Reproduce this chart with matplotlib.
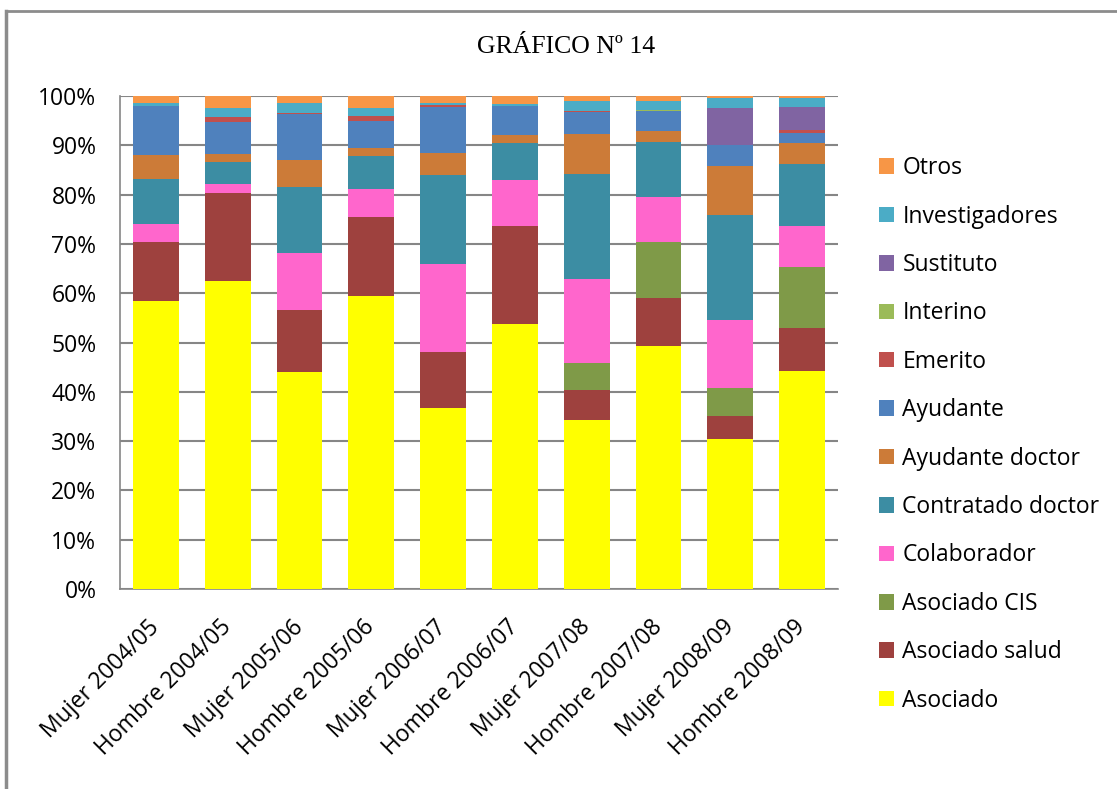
import matplotlib
matplotlib.use("Agg")
import matplotlib.pyplot as plt
from matplotlib.lines import Line2D
from matplotlib.patches import Patch
import numpy as np

# bars, left to right
groups = [
    "Mujer 2004/05", "Hombre 2004/05", "Mujer 2005/06", "Hombre 2005/06",
    "Mujer 2006/07", "Hombre 2006/07", "Mujer 2007/08", "Hombre 2007/08",
    "Mujer 2008/09", "Hombre 2008/09",
]

# stacked from bottom to top (percent)
asociado = [58.5, 62.5, 44.0, 59.5, 36.6, 53.8, 34.2, 49.2, 30.4, 44.1]
asociado_salud = [11.9, 17.8, 12.6, 16.2, 11.4, 19.8, 6.1, 9.9, 4.6, 8.9]
asociado_cis = [0, 0, 0, 0, 0, 0, 5.6, 11.3, 5.7, 12.3]
colaborador = [3.6, 1.8, 11.5, 5.5, 17.9, 9.5, 17.0, 9.1, 13.9, 8.3]
contratado_doctor = [9.1, 4.6, 13.3, 6.9, 18.0, 7.5, 21.2, 11.1, 21.2, 12.5]
ayudante_doctor = [4.85, 1.6, 5.5, 1.6, 4.4, 1.6, 8.1, 2.4, 9.9, 4.25]
ayudante = [10.1, 6.5, 9.3, 5.5, 9.5, 5.9, 4.5, 3.9, 4.45, 2.0]
emerito = [0, 1.0, 0.4, 1.0, 0.25, 0, 0.2, 0, 0, 0.8]
interino = [0, 0, 0, 0, 0, 0, 0, 0.2, 0, 0]
sustituto = [0, 0, 0, 0, 0, 0, 0, 0, 7.5, 4.65]
investigadores = [0.6, 1.8, 2.0, 1.6, 0.55, 0.4, 2.15, 1.95, 1.85, 1.65]
otros = [1.35, 2.4, 1.35, 2.4, 1.35, 1.55, 0.95, 0.95, 0.5, 0.5]

series = [
    ("Asociado", asociado, "#FFFF00"),
    ("Asociado salud", asociado_salud, "#9E413E"),
    ("Asociado CIS", asociado_cis, "#7F9A48"),
    ("Colaborador", colaborador, "#FF66CC"),
    ("Contratado doctor", contratado_doctor, "#3C8DA3"),
    ("Ayudante doctor", ayudante_doctor, "#CC7B38"),
    ("Ayudante", ayudante, "#4F81BD"),
    ("Emerito", emerito, "#C0504D"),
    ("Interino", interino, "#9BBB59"),
    ("Sustituto", sustituto, "#8064A2"),
    ("Investigadores", investigadores, "#4BACC6"),
    ("Otros", otros, "#F79646"),
]

font = "Open Sans"
fsize = 16.5
grey = "#868686"

fig = plt.figure(figsize=(11.17, 7.89), dpi=100)
ax = fig.add_axes([120 / 1117, 1 - 589 / 789, 718 / 1117, 493 / 789])

# 100% stacked: normalise each bar
data = np.array([s[1] for s in series], dtype=float)
data = data / data.sum(axis=0) * 100
x = np.arange(len(groups))
bottom = np.zeros(len(groups))
for (name, _, color), vals in zip(series, data):
    ax.bar(x, vals, bottom=bottom, width=0.64, color=color, label=name, zorder=3)
    bottom += vals

ax.set_xlim(-0.5, len(groups) - 0.5)
ax.set_ylim(0, 100)
ax.set_yticks(np.arange(0, 101, 10))
ax.set_yticklabels([f"{v}%" for v in range(0, 101, 10)], fontsize=fsize, family=font)
ax.set_xticks(x)
ax.set_xticklabels(groups, rotation=45, ha="right", va="center", rotation_mode="anchor",
                   fontsize=fsize, family=font)
ax.tick_params(axis="y", length=0, pad=17)
ax.tick_params(axis="x", length=0, pad=25)
ax.yaxis.grid(True, color=grey, linewidth=1.5, zorder=0)
for side in ["top", "right"]:
    ax.spines[side].set_visible(False)
for side in ["left", "bottom"]:
    ax.spines[side].set_color(grey)
    ax.spines[side].set_linewidth(1.2)

# legend, top entry is the top series
handles = [Patch(facecolor=c, edgecolor="none") for _, _, c in series][::-1]
labels = [n for n, _, _ in series][::-1]
fig.legend(handles, labels, loc="upper left", bbox_to_anchor=(870 / 1117, 1 - 147 / 789),
           frameon=False, prop={"family": font, "size": fsize}, handlelength=0.66,
           handleheight=0.66, handletextpad=0.35, labelspacing=1.065, borderaxespad=0)

fig.text(566 / 1117, 1 - 47 / 789, "GRÁFICO Nº 14", ha="center", va="center",
         fontsize=18.5, family="Liberation Serif")

# chart border (only top and left visible in the crop)
fig.add_artist(Line2D([6 / 1117, 1], [1 - 11 / 789, 1 - 11 / 789], color="#8C8C8C", lw=2))
fig.add_artist(Line2D([6 / 1117, 6 / 1117], [0, 1 - 11 / 789], color="#8C8C8C", lw=2.5))

fig.savefig("out.png", dpi=100)
